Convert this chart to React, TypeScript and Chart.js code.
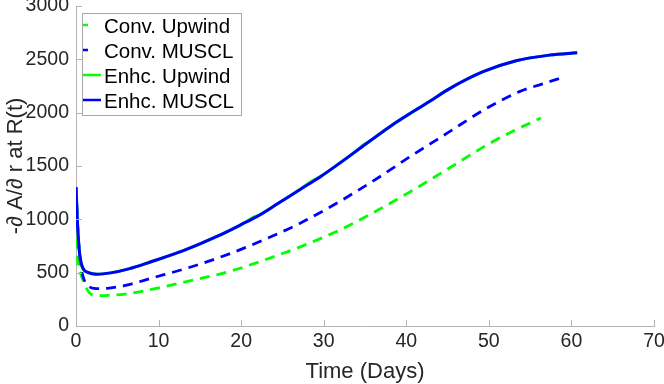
import React, { useEffect, useRef } from 'react';
import { Chart, registerables } from 'chart.js';

Chart.register(...registerables);

// ---- data ----
const xTickValues = [0, 10, 20, 30, 40, 50, 60, 70];
const yTickValues = [0, 500, 1000, 1500, 2000, 2500, 3000];

const convUpwindT = [0, 0.1, 0.22, 0.5, 0.75, 1.15, 1.95, 3, 4, 5.7, 9, 14.2, 18.3, 24.5, 28, 32.5, 36.4, 40.4, 44.5, 50.1, 53, 56.3];
const convUpwindV = [1300, 900, 590, 500, 450, 370, 292, 284, 287, 297, 340, 431, 505, 665, 768, 920, 1080, 1255, 1447, 1712, 1830, 1950];

const convMusclT = [0, 0.3, 0.6, 1, 1.5, 2.2, 3, 4, 6, 9, 14.2, 18.7, 22.7, 27.1, 31.2, 36.6, 40.5, 45, 49.7, 53.7, 56.5, 58.6];
const convMusclV = [1300, 800, 560, 430, 375, 352, 350, 356, 380, 445, 560, 680, 806, 962, 1134, 1390, 1590, 1810, 2040, 2197, 2270, 2322];

const enhUpwindT = [0, 0.2, 0.4, 0.55, 0.85, 1.5, 2.5, 4.2, 6.5, 9, 13, 17, 20.7, 21.3, 22.2, 24.5, 27.1, 28.6, 29.8, 32, 34, 34.8, 35.6, 38, 42.9, 45.3, 49.3, 53.3, 57.4, 60.7];
const enhUpwindV = [1300, 920, 700, 600, 535, 500, 485, 498, 538, 600, 706, 837, 980, 1013, 1040, 1150, 1280, 1360, 1410, 1530, 1645, 1697, 1735, 1869, 2110, 2228, 2384, 2487, 2540, 2562];

const enhMusclT = [0, 0.2, 0.4, 0.55, 0.85, 1.5, 2.5, 4.2, 6.5, 9, 13, 17, 20.7, 21.9, 24.5, 27.1, 29.6, 32, 34.4, 38, 42.9, 45.3, 49.3, 53.3, 57.4, 60.7];
const enhMusclV = [1300, 930, 710, 620, 540, 500, 485, 498, 538, 600, 706, 837, 978, 1025, 1150, 1278, 1400, 1530, 1666, 1869, 2110, 2228, 2384, 2487, 2540, 2562];

const seriesLabels = ['Conv. Upwind', 'Conv. MUSCL', 'Enhc. Upwind', 'Enhc. MUSCL'];

const AXIS_COLOR = '#b4b4b4';
const TEXT_COLOR = '#262626';
const FONT = '"Liberation Sans", Arial, Helvetica, sans-serif';

const toPoints = (t: number[], v: number[]) => t.map((x, i) => ({ x, y: v[i] }));

const inwardTicks = {
  id: 'inwardTicks',
  afterDatasetsDraw(chart: any) {
    const { ctx, chartArea, scales } = chart;
    const xs = scales.x;
    const ys = scales.y;
    ctx.save();
    ctx.strokeStyle = AXIS_COLOR;
    ctx.lineWidth = 1;
    ctx.setLineDash([]);
    xs.ticks.forEach((t: any) => {
      const px = Math.round(xs.getPixelForValue(t.value)) + 0.5;
      ctx.beginPath();
      ctx.moveTo(px, chartArea.bottom);
      ctx.lineTo(px, chartArea.bottom - 6);
      ctx.stroke();
    });
    ys.ticks.forEach((t: any) => {
      const py = Math.round(ys.getPixelForValue(t.value)) + 0.5;
      ctx.beginPath();
      ctx.moveTo(chartArea.left, py);
      ctx.lineTo(chartArea.left + 6, py);
      ctx.stroke();
    });
    ctx.restore();
  },
};

const boxLegend = {
  id: 'boxLegend',
  afterDraw(chart: any) {
    const { ctx } = chart;
    ctx.save();
    const x0 = 82, y0 = 13, w = 159, h = 102;
    ctx.fillStyle = '#ffffff';
    ctx.fillRect(x0, y0, w, h);
    ctx.strokeStyle = '#a8a8a8';
    ctx.lineWidth = 1;
    ctx.setLineDash([]);
    ctx.strokeRect(x0 + 0.5, y0 + 0.5, w, h);
    chart.data.datasets.forEach((ds: any, i: number) => {
      const yc = 27 + i * 25;
      ctx.strokeStyle = ds.borderColor;
      ctx.lineWidth = 2.5;
      ctx.setLineDash([]);
      ctx.beginPath();
      const dashed = ds.borderDash && ds.borderDash.length > 0;
      ctx.moveTo(83, yc - 2);
      ctx.lineTo(dashed ? 88 : 101, yc - 2);
      ctx.stroke();
      ctx.fillStyle = '#000000';
      ctx.font = `20.5px ${FONT}`;
      ctx.textBaseline = 'middle';
      ctx.textAlign = 'left';
      ctx.fillText(ds.label, 104, yc);
    });
    ctx.restore();
  },
};

export default function App() {
  const ref = useRef<HTMLCanvasElement>(null);
  useEffect(() => {
    const canvas = ref.current!;
    const chart = new Chart(canvas, {
      type: 'line',
      data: {
        datasets: [
          {
            label: seriesLabels[0],
            data: toPoints(convUpwindT, convUpwindV),
            borderColor: '#00ff00',
            borderWidth: 2.8,
            borderDash: [10, 7],
            pointRadius: 0,
            cubicInterpolationMode: 'monotone',
            order: 4,
          },
          {
            label: seriesLabels[1],
            data: toPoints(convMusclT, convMusclV),
            borderColor: '#0000ff',
            borderWidth: 2.8,
            borderDash: [10, 7],
            pointRadius: 0,
            cubicInterpolationMode: 'monotone',
            order: 3,
          },
          {
            label: seriesLabels[2],
            data: toPoints(enhUpwindT, enhUpwindV),
            borderColor: '#00ff00',
            borderWidth: 3,
            pointRadius: 0,
            cubicInterpolationMode: 'monotone',
            order: 2,
          },
          {
            label: seriesLabels[3],
            data: toPoints(enhMusclT, enhMusclV),
            borderColor: '#0000ff',
            borderWidth: 3,
            pointRadius: 0,
            cubicInterpolationMode: 'monotone',
            order: 1,
          },
        ],
      } as any,
      options: {
        responsive: false,
        animation: false,
        devicePixelRatio: 1,
        layout: { padding: { left: 0, right: 10, top: 6, bottom: 0 } },
        plugins: {
          legend: { display: false },
          tooltip: { enabled: false },
        },
        scales: {
          x: {
            type: 'linear',
            min: 0,
            max: 70,
            afterBuildTicks: (s: any) => { s.ticks = xTickValues.map((value) => ({ value })); },
            afterFit: (s: any) => { s.height = 58; s.paddingLeft = 0; s.paddingRight = 0; },
            grid: { display: false, drawTicks: false },
            border: { display: true, color: AXIS_COLOR, width: 1 },
            ticks: { color: TEXT_COLOR, font: { size: 19.5, family: FONT }, padding: 4, maxRotation: 0, autoSkip: false, callback: (v: any) => String(v) },
            title: { display: true, text: 'Time (Days)', color: TEXT_COLOR, font: { size: 22, family: FONT, lineHeight: 1.1 }, padding: 0 },
          },
          y: {
            type: 'linear',
            min: 0,
            max: 3000,
            afterBuildTicks: (s: any) => { s.ticks = yTickValues.map((value) => ({ value })); },
            afterFit: (s: any) => { s.width = 76; s.paddingTop = 0; s.paddingBottom = 0; },
            grid: { display: false, drawTicks: false },
            border: { display: true, color: AXIS_COLOR, width: 1 },
            ticks: { color: TEXT_COLOR, font: { size: 19.5, family: FONT }, padding: 7, autoSkip: false, callback: (v: any) => String(v) },
            title: { display: true, text: '-∂ A/∂ r at R(t)', color: TEXT_COLOR, font: { size: 22, family: FONT, lineHeight: 1.1 }, padding: { top: 4, bottom: 0 } },
          },
        },
      } as any,
      plugins: [inwardTicks, boxLegend],
    });
    return () => chart.destroy();
  }, []);
  return (
    <div style={{ position: 'fixed', left: 0, top: 0, width: 664, height: 384, background: '#ffffff' }}>
      <canvas ref={ref} width={664} height={384} style={{ width: 664, height: 384, display: 'block' }} />
    </div>
  );
}
